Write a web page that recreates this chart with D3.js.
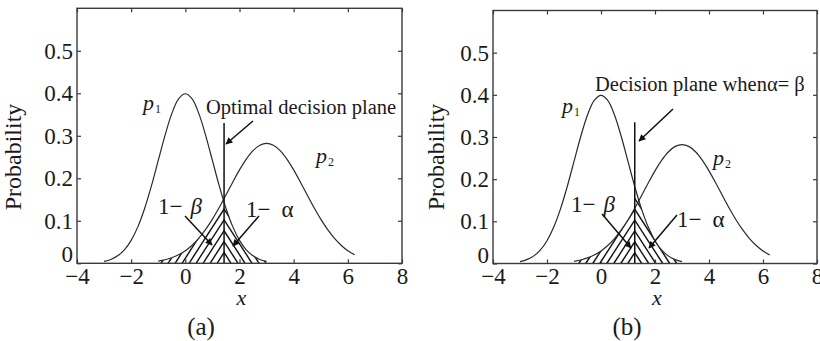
<!DOCTYPE html>
<html>
<head>
<meta charset="utf-8">
<script src="https://cdn.jsdelivr.net/npm/d3@7"></script>
<style>
  html, body { margin: 0; padding: 0; background: #fff; }
  svg { display: block; }
  text { font-family: "Liberation Serif", "Times New Roman", serif; fill: #1a1a1a; }
</style>
</head>
<body>
<svg id="chart" width="820" height="341"></svg>
<script>
// Sampled densities: p1 ~ N(0, 1), p2 ~ N(3, 2)
const xP1 = [-3, -2.75, -2.5, -2.25, -2, -1.75, -1.5, -1.25, -1, -0.75, -0.5, -0.25, 0,
             0.25, 0.5, 0.75, 1, 1.25, 1.5, 1.75, 2, 2.25, 2.5, 2.75, 3];
const yP1 = [0.0044, 0.0091, 0.0175, 0.0317, 0.0540, 0.0863, 0.1295, 0.1826, 0.2420, 0.3011, 0.3521, 0.3867, 0.3989,
             0.3867, 0.3521, 0.3011, 0.2420, 0.1826, 0.1295, 0.0863, 0.0540, 0.0317, 0.0175, 0.0091, 0.0044];
const xP2 = [-1, -0.75, -0.5, -0.25, 0, 0.25, 0.5, 0.75, 1, 1.25, 1.5, 1.75, 2, 2.25, 2.5, 2.75, 3,
             3.25, 3.5, 3.75, 4, 4.25, 4.5, 4.75, 5, 5.25, 5.5, 5.75, 6, 6.25];
const yP2 = [0.0052, 0.0084, 0.0132, 0.0201, 0.0297, 0.0426, 0.0591, 0.0796, 0.1038, 0.1312, 0.1607, 0.1909,
             0.2197, 0.2451, 0.2650, 0.2777, 0.2821, 0.2777, 0.2650, 0.2451, 0.2197, 0.1909, 0.1607, 0.1312,
             0.1038, 0.0796, 0.0591, 0.0426, 0.0297, 0.0201];

// Axis ticks
const xTicks = [-4, -2, 0, 2, 4, 6, 8];
const yTicks = [0, 0.1, 0.2, 0.3, 0.4, 0.5];
const yTickLabels = ["0", "0.1", "0.2", "0.3", "0.4", "0.5"];

// Decision thresholds of the two panels
const thresholds = [1.43, 1.25];
const panelTags = ["(a)", "(b)"];
const planeTitles = ["Optimal decision plane", "Decision plane when\u03b1= \u03b2"];

const svg = d3.select("#chart");
const p1 = xP1.map((x, i) => ({x, y: yP1[i]}));
const p2 = xP2.map((x, i) => ({x, y: yP2[i]}));

// arrowhead marker
svg.append("defs").append("marker")
  .attr("id", "head").attr("viewBox", "0 0 10 10")
  .attr("refX", 9).attr("refY", 5)
  .attr("markerWidth", 9).attr("markerHeight", 7)
  .attr("markerUnits", "userSpaceOnUse")
  .attr("orient", "auto")
  .append("path").attr("d", "M0,0 L10,5 L0,10 Z").attr("fill", "#111");

const layouts = [
  {left: 77, right: 402, top: 8.3, bottom: 263.3, ylabX: 21, tagX: 201,
   title: {x: 206, y: 114}, planeTop: 0.33,
   arrowPlane: [[253, 121], [226, 144]],
   p1Lab: [143, 110], p2Lab: [316, 163],
   bLab: {x: 158, y: 214, gap: 8}, aLab: {x: 246, y: 217, gap: 11},
   arrowB: [[185, 216], [212, 245]], arrowA: [[259, 216], [233, 246]]},
  {left: 493, right: 817, top: 10.5, bottom: 263.5, ylabX: 444, tagX: 627,
   title: {x: 595, y: 91}, planeTop: 0.335,
   arrowPlane: [[673, 109], [639, 141]],
   p1Lab: [562, 113], p2Lab: [713, 165],
   bLab: {x: 571, y: 212, gap: 8}, aLab: {x: 677, y: 227, gap: 11},
   arrowB: [[602, 214], [631, 248]], arrowA: [[677, 215], [649, 248]]}
];

layouts.forEach((L, k) => {
  const g = svg.append("g");
  const x = d3.scaleLinear().domain([-4, 8]).range([L.left, L.right]);
  const y = d3.scaleLinear().domain([0, 0.6]).range([L.bottom, L.top]);
  const t = thresholds[k];

  const line = d3.line().x(d => x(d.x)).y(d => y(d.y)).curve(d3.curveCatmullRom);
  const area = d3.area().x(d => x(d.x)).y0(y(0)).y1(d => y(d.y)).curve(d3.curveCatmullRom);

  // clip paths: left of threshold under p2, right of threshold under p1
  const defs = g.append("defs");
  defs.append("clipPath").attr("id", "leftSide" + k)
    .append("rect").attr("x", L.left).attr("y", L.top)
    .attr("width", x(t) - L.left).attr("height", L.bottom - L.top);
  defs.append("clipPath").attr("id", "rightSide" + k)
    .append("rect").attr("x", x(t)).attr("y", L.top)
    .attr("width", L.right - x(t)).attr("height", L.bottom - L.top);
  defs.append("clipPath").attr("id", "underP2_" + k).append("path").attr("d", area(p2));
  defs.append("clipPath").attr("id", "underP1_" + k).append("path").attr("d", area(p1));

  const xt = x(t), y0 = y(0);
  const spacing = 7, slope = 1.55, H = 80;
  const offs = d3.range(0, 26).map(i => i * spacing);

  // "/" hatching under p2 left of the plane
  g.append("g").attr("clip-path", `url(#leftSide${k})`)
    .append("g").attr("clip-path", `url(#underP2_${k})`)
    .selectAll("line").data(offs).join("line")
    .attr("x1", d => xt - d).attr("y1", y0)
    .attr("x2", d => xt - d + H / slope).attr("y2", y0 - H)
    .attr("stroke", "#111").attr("stroke-width", 1.4);

  // "\" hatching under p1 right of the plane
  g.append("g").attr("clip-path", `url(#rightSide${k})`)
    .append("g").attr("clip-path", `url(#underP1_${k})`)
    .selectAll("line").data(offs).join("line")
    .attr("x1", d => xt + d).attr("y1", y0)
    .attr("x2", d => xt + d - H / slope).attr("y2", y0 - H)
    .attr("stroke", "#111").attr("stroke-width", 1.4);

  // density curves
  g.append("path").attr("d", line(p1)).attr("fill", "none").attr("stroke", "#2a2a2a").attr("stroke-width", 1.2);
  g.append("path").attr("d", line(p2)).attr("fill", "none").attr("stroke", "#2a2a2a").attr("stroke-width", 1.2);

  // decision plane
  g.append("line").attr("x1", xt).attr("x2", xt).attr("y1", y(0)).attr("y2", y(L.planeTop))
    .attr("stroke", "#111").attr("stroke-width", 1.5);

  // frame
  g.append("rect").attr("x", L.left).attr("y", L.top)
    .attr("width", L.right - L.left).attr("height", L.bottom - L.top)
    .attr("fill", "none").attr("stroke", "#3a3a3a").attr("stroke-width", 1.4);

  // axes with inward ticks
  const ax = d3.axisBottom(x).tickValues(xTicks).tickSizeInner(-4).tickSizeOuter(0).tickPadding(4)
    .tickFormat(d3.format("d"));
  const axG = g.append("g").attr("transform", `translate(0,${L.bottom})`).call(ax);
  const axTop = g.append("g").attr("transform", `translate(0,${L.top})`)
    .call(d3.axisTop(x).tickValues(xTicks).tickSizeInner(-4).tickSizeOuter(0).tickFormat(""));
  const ay = d3.axisLeft(y).tickValues(yTicks).tickSizeInner(-4).tickSizeOuter(0).tickPadding(4)
    .tickFormat((d, i) => yTickLabels[i]);
  const ayG = g.append("g").attr("transform", `translate(${L.left},0)`).call(ay);
  const ayR = g.append("g").attr("transform", `translate(${L.right},0)`)
    .call(d3.axisRight(y).tickValues(yTicks).tickSizeInner(-4).tickSizeOuter(0).tickFormat(""));
  [axG, axTop, ayG, ayR].forEach(a => {
    a.select(".domain").remove();
    a.selectAll(".tick line").attr("stroke", "#3a3a3a").attr("stroke-width", 1.2);
    a.selectAll("text").attr("font-family", "Liberation Serif").attr("font-size", 23).attr("fill", "#1a1a1a");
  });
  // the zero label on the y axis sits a little above its tick
  ayG.selectAll(".tick text").filter(d => d === 0).attr("y", -6).attr("dy", "0.2em");

  // axis titles
  g.append("text").attr("transform", `translate(${L.ylabX},157) rotate(-90)`)
    .attr("text-anchor", "middle").attr("font-size", 24).text("Probability");
  g.append("text").attr("x", (L.left + L.right) / 2 + 2).attr("y", 305)
    .attr("text-anchor", "middle").attr("font-size", 22).attr("font-style", "italic").text("x");
  g.append("text").attr("x", L.tagX).attr("y", 335)
    .attr("text-anchor", "middle").attr("font-size", 25).text(panelTags[k]);

  // curve labels
  [[L.p1Lab, "1"], [L.p2Lab, "2"]].forEach(([pos, sub]) => {
    const tx = g.append("text").attr("x", pos[0]).attr("y", pos[1]).attr("font-size", 22);
    tx.append("tspan").attr("font-style", "italic").text("p");
    tx.append("tspan").attr("font-size", 12).attr("dy", 3).attr("dx", 1).text(sub);
  });

  // decision plane title + arrow
  g.append("text").attr("x", L.title.x).attr("y", L.title.y).attr("font-size", 20.5).text(planeTitles[k]);
  g.append("line")
    .attr("x1", L.arrowPlane[0][0]).attr("y1", L.arrowPlane[0][1])
    .attr("x2", L.arrowPlane[1][0]).attr("y2", L.arrowPlane[1][1])
    .attr("stroke", "#111").attr("stroke-width", 1.5).attr("marker-end", "url(#head)");

  // error-region labels + arrows
  const tb = g.append("text").attr("x", L.bLab.x).attr("y", L.bLab.y).attr("font-size", 23);
  tb.append("tspan").text("1\u2212");
  tb.append("tspan").attr("dx", L.bLab.gap).attr("font-style", "italic").text("\u03b2");
  const ta = g.append("text").attr("x", L.aLab.x).attr("y", L.aLab.y).attr("font-size", 23);
  ta.append("tspan").text("1\u2212");
  ta.append("tspan").attr("dx", L.aLab.gap).text("\u03b1");
  [L.arrowB, L.arrowA].forEach(a => {
    g.append("line").attr("x1", a[0][0]).attr("y1", a[0][1]).attr("x2", a[1][0]).attr("y2", a[1][1])
      .attr("stroke", "#111").attr("stroke-width", 1.5).attr("marker-end", "url(#head)");
  });
});
</script>
</body>
</html>
